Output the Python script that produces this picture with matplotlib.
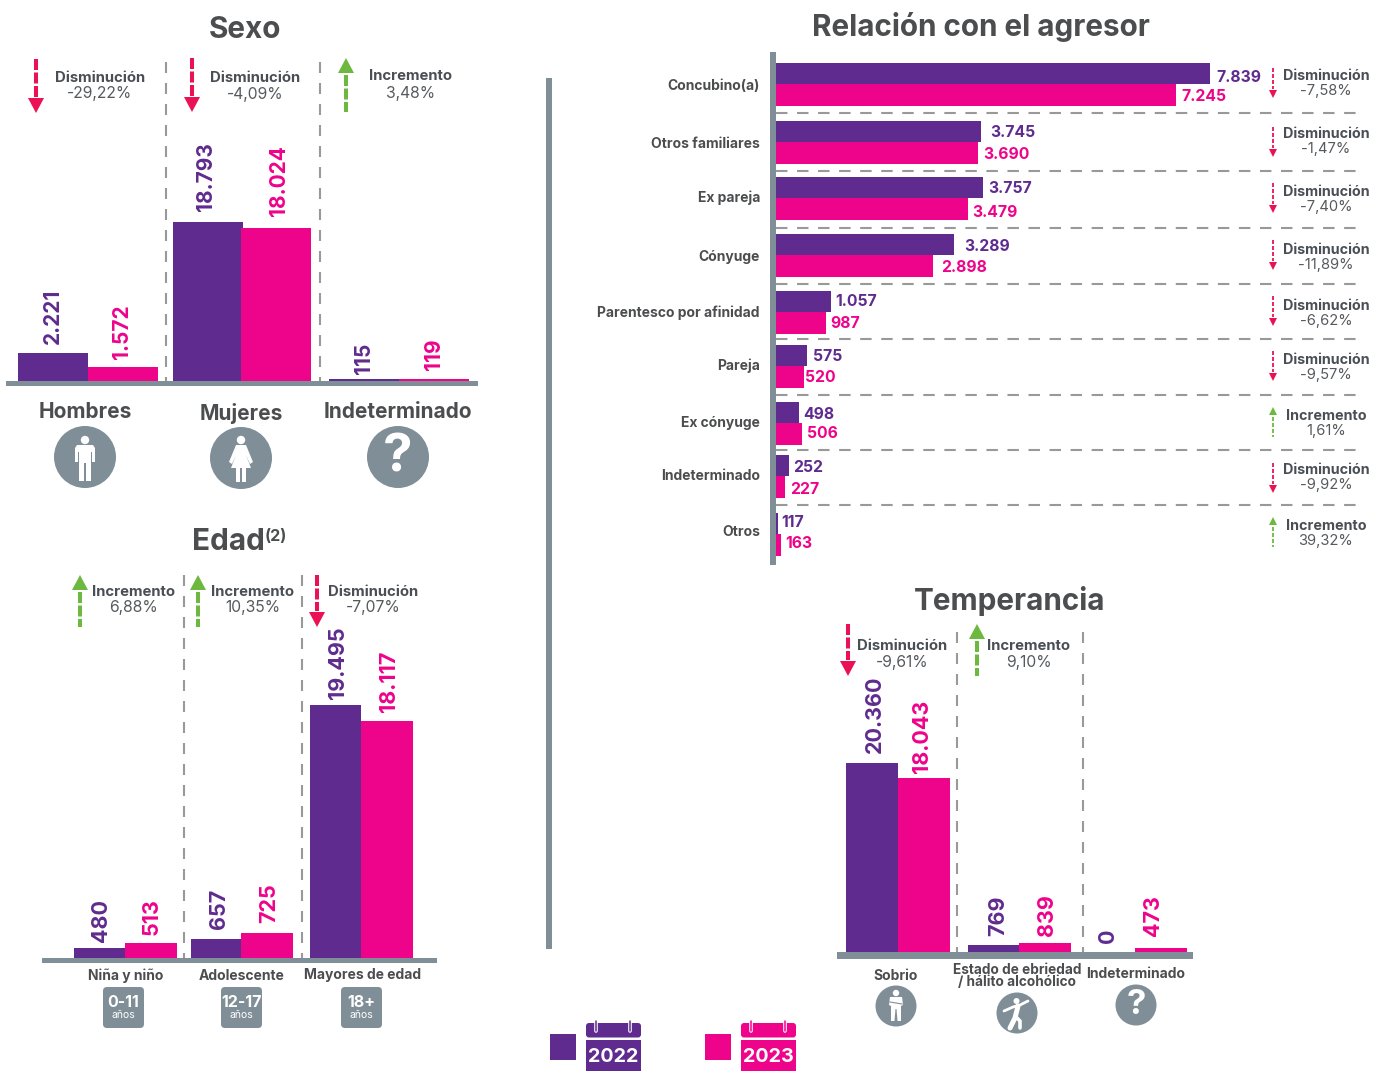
#!/usr/bin/env python3
"""Violencia familiar 2022-2023: sexo, edad, relacion con el agresor y temperancia."""

import matplotlib
matplotlib.use("Agg")
import matplotlib.pyplot as plt
from matplotlib.patches import Circle, FancyBboxPatch, Polygon, Rectangle

plt.rcParams["font.family"] = ["Inter", "DejaVu Sans"]

PURPLE = "#5F2B8E"
PINK = "#EE038B"
SLATE = "#7F8E97"
DARK = "#4C4D4F"
GREY_TXT = "#565A5E"
RED = "#EA1254"
GREEN = "#6DB83F"
DASH = "#999999"
W, H = 1388, 1071

# --- data -----------------------------------------------------------------
sexo_etiq_2022 = ["2.221", "18.793", "115"]
sexo_etiq_2023 = ["1.572", "18.024", "119"]
# the small bars in the source are not to scale with their printed values,
# so the drawn lengths are read off the picture separately
sexo_barra_2022 = [3310, 18793, 240]
sexo_barra_2023 = [1655, 18085, 240]
sexo_cat = ["Hombres", "Mujeres", "Indeterminado"]
sexo_cambio = [("Disminución", "-29,22%"), ("Disminución", "-4,09%"), ("Incremento", "3,48%")]

edad_etiq_2022 = ["480", "657", "19.495"]
edad_etiq_2023 = ["513", "725", "18.117"]
edad_barra_2022 = [770, 1465, 19495]
edad_barra_2023 = [1155, 1925, 18260]
edad_cat = ["Niña y niño", "Adolescente", "Mayores de edad"]
edad_rango = ["0-11", "12-17", "18+"]
edad_cambio = [("Incremento", "6,88%"), ("Incremento", "10,35%"), ("Disminución", "-7,07%")]

temp_etiq_2022 = ["20.360", "769", "0"]
temp_etiq_2023 = ["18.043", "839", "473"]
temp_barra_2022 = [20360, 754, 0]
temp_barra_2023 = [18744, 970, 431]
temp_cambio = [("Disminución", "-9,61%"), ("Incremento", "9,10%")]

rel_cat = ["Concubino(a)", "Otros familiares", "Ex pareja", "Cónyuge",
           "Parentesco por afinidad", "Pareja", "Ex cónyuge", "Indeterminado", "Otros"]
rel_barra_2022 = [7839, 3712, 3748, 3226, 1009, 577, 432, 252, 54]
rel_barra_2023 = [7226, 3658, 3478, 2847, 919, 523, 487, 180, 108]
rel_etiq_2022 = ["7.839", "3.745", "3.757", "3.289", "1.057", "575", "498", "252", "117"]
rel_etiq_2023 = ["7.245", "3.690", "3.479", "2.898", "987", "520", "506", "227", "163"]
rel_cambio = [("Disminución", "-7,58%"), ("Disminución", "-1,47%"), ("Disminución", "-7,40%"),
              ("Disminución", "-11,89%"), ("Disminución", "-6,62%"), ("Disminución", "-9,57%"),
              ("Incremento", "1,61%"), ("Disminución", "-9,92%"), ("Incremento", "39,32%")]

# --- layout, in reference pixels ------------------------------------------
fig = plt.figure(figsize=(W / 100, H / 100), dpi=100, facecolor="white")
ov = fig.add_axes([0, 0, 1, 1])
ov.set_xlim(0, W)
ov.set_ylim(H, 0)
ov.axis("off")


def txt(x, y, s, size, color=DARK, weight="bold", ha="center", va="center", **kw):
    return ov.text(x, y + 1.5, s, fontsize=size, color=color, fontweight=weight, ha=ha, va=va, **kw)


def vdash(x, y0, y1, color=DASH, lw=1.5, on=11, off=10):
    # dash lengths are given in pixels; matplotlib scales them by the line width
    ov.plot([x, x], [y0, y1], color=color, lw=lw, dashes=(on * 0.72 / lw, off * 0.72 / lw),
            dash_capstyle="butt", solid_capstyle="butt")


def arrow(x, top, bottom, up, w=16, tri=15, lw=2.9, on=11, off=2.5):
    color = GREEN if up else RED
    if up:
        ov.add_patch(Polygon([(x - w / 2, top + tri), (x + w / 2, top + tri), (x, top)], color=color, lw=0))
        vdash(x, top + tri + 2, bottom, color, lw, on, off)
    else:
        ov.add_patch(Polygon([(x - w / 2, bottom - tri), (x + w / 2, bottom - tri), (x, bottom)], color=color, lw=0))
        vdash(x, top, bottom - tri - 1, color, lw, on, off)


def change_text(x, y0, y1, pair, s0=10.7, s1=11.3):
    txt(x, y0, pair[0], s0, color="#4A4F55")
    txt(x, y1, pair[1], s1, color=GREY_TXT, weight="normal")


def bars_panel(baseline, units_per_px, lefts_a, lefts_b, width_a, width_b, vals_a, vals_b,
               lab_a, lab_b, xs_a, xs_b, gaps_a, gaps_b, size):
    ax = fig.add_axes([0, 1 - baseline / H, 1, baseline / H])
    ax.patch.set_alpha(0)
    ax.set_xlim(0, W)
    ax.set_ylim(0, baseline * units_per_px)
    ax.axis("off")
    ax.bar(lefts_a, vals_a, width_a, align="edge", color=PURPLE, lw=0)
    ax.bar(lefts_b, vals_b, width_b, align="edge", color=PINK, lw=0)
    for x, v, s, g in zip(xs_a, vals_a, lab_a, gaps_a):
        ax.annotate(s, (x, v), xytext=(1.5, g), textcoords="offset pixels", rotation=90, ha="center",
                    va="bottom", fontsize=size, fontweight="bold", color=PURPLE)
    for x, v, s, g in zip(xs_b, vals_b, lab_b, gaps_b):
        ax.annotate(s, (x, v), xytext=(1.5, g), textcoords="offset pixels", rotation=90, ha="center",
                    va="bottom", fontsize=size, fontweight="bold", color=PINK)


def icon_disc(x, y, r):
    ov.add_patch(Circle((x, y), r, color=SLATE, lw=0))


def man(x, y, k=1.0):
    pts = [(-8, -14), (8, -14), (10, -11), (10, 3), (7, 3), (7, -7), (6, -7), (6, 22), (1, 22),
           (1, 4), (-1, 4), (-1, 22), (-6, 22), (-6, -7), (-7, -7), (-7, 3), (-10, 3), (-10, -11)]
    ov.add_patch(Polygon([(x + a * k, y + b * k) for a, b in pts], color="white", lw=0, joinstyle="round"))
    ov.add_patch(Circle((x, y - 19 * k), 4.2 * k, color="white", lw=0))


def woman(x, y, k=1.0):
    pts = [(-5, -14), (5, -14), (12, 3), (9, 5), (5, -4), (10, 9), (5, 9), (5, 23), (1, 23), (1, 9),
           (-1, 9), (-1, 23), (-5, 23), (-5, 9), (-10, 9), (-5, -4), (-9, 5), (-12, 3)]
    ov.add_patch(Polygon([(x + a * k, y + b * k) for a, b in pts], color="white", lw=0))
    ov.add_patch(Circle((x, y - 19 * k), 4.2 * k, color="white", lw=0))


def sober(x, y):
    pts = [(-6, -9), (6, -9), (7, -1), (5, 0), (5, 15), (1.5, 15), (0.5, 3), (-0.5, 3), (-1.5, 15),
           (-5, 15), (-5, 0), (-7, -1)]
    ov.add_patch(Polygon([(x + a, y + b) for a, b in pts], color="white", lw=0))
    ov.add_patch(Circle((x, y - 13), 3.2, color="white", lw=0))
    ov.plot([x - 6, x + 6], [y - 4, y - 2], color=SLATE, lw=0.8)


def drunk(x, y):
    ov.plot([x - 13, x - 4, x + 3, x + 11], [y - 2, y - 6, y - 8, y - 12], color="white", lw=2,
            solid_capstyle="round")
    ov.plot([x + 1, x - 2, x - 7], [y - 7, y + 5, y + 15], color="white", lw=3.6, solid_capstyle="round")
    ov.plot([x - 1, x + 3, x + 3], [y + 4, y + 8, y + 15], color="white", lw=2.6, solid_capstyle="round")
    ov.add_patch(Circle((x - 0.5, y - 12), 3, color="white", lw=0))


def calendar(x0, color, year):
    ov.add_patch(Rectangle((x0, 1040), 55, 31, color=color, lw=0))
    ov.add_patch(FancyBboxPatch((x0, 1023), 55, 14.5, boxstyle="round,pad=0,rounding_size=3", color=color, lw=0))
    for dx in (10, 44):
        ov.plot([x0 + dx, x0 + dx], [1021, 1031], color="white", lw=2.6, solid_capstyle="round")
        ov.plot([x0 + dx, x0 + dx], [1021, 1031], color=color, lw=1.1, solid_capstyle="round")
    txt(x0 + 27.5, 1055.5, year, 14.2, color="white")


# titles
txt(245, 28, "Sexo", 21.4)
txt(981, 26, "Relación con el agresor", 21.4)
txt(228, 541, "Edad", 21.4)
txt(276, 535, "(2)", 11.5)
txt(1010, 599, "Temperancia", 21.4)

# Sexo
for x in (166, 320):
    vdash(x, 62, 381)
arrow(36, 59, 113, False)
arrow(192, 58, 112, False)
arrow(346, 58, 112, True)
for (cx, y0, y1), p in zip([(100, 76, 92), (255, 76, 93), (411, 75, 92)], sexo_cambio):
    change_text(cx, y0, y1, p)
ov.add_patch(Rectangle((6, 381), 472, 5, color=SLATE, lw=0))
for x, y, s in zip((85, 241, 398), (410, 412, 410), sexo_cat):
    txt(x, y, s, 15)
icon_disc(85, 457, 31)
icon_disc(241, 458, 31)
icon_disc(398, 457, 31)
man(85, 459)
woman(241, 459)
txt(398, 457, "?", 38, color="white")
bars_panel(381, 18793 / 159, [18, 173, 329], [88, 241, 399], 70, 70, sexo_barra_2022, sexo_barra_2023,
           sexo_etiq_2022, sexo_etiq_2023, [51, 205, 363], [121, 278, 433], [9, 11, 5], [8, 12, 9], 15)

# Edad
for x in (184, 302):
    vdash(x, 575, 958)
arrow(80, 575, 627, True)
arrow(198, 575, 627, True)
arrow(317, 575, 627, False)
for (cx, y0, y1), p in zip([(134, 590, 606), (253, 590, 606), (373, 590, 606)], edad_cambio):
    change_text(cx, y0, y1, p)
ov.add_patch(Rectangle((42, 958), 395, 5, color=SLATE, lw=0))
for x, s, r, bx in zip((126, 242, 363), edad_cat, edad_rango, (103, 221, 341)):
    txt(x, 974, s, 10)
    ov.add_patch(FancyBboxPatch((bx, 987), 41, 41, boxstyle="round,pad=0,rounding_size=4", color=SLATE, lw=0))
    txt(bx + 20.5, 1001, r, 11.5, color="white")
    txt(bx + 20.5, 1014, "años", 7.5, color="white", weight="normal")
bars_panel(958, 19495 / 253, [74, 191, 310], [125, 241, 361], [51, 50, 51], 52, edad_barra_2022, edad_barra_2023,
           edad_etiq_2022, edad_etiq_2023, [100, 218, 337], [150, 268, 388], [6, 10, 6], [8, 10, 9], 15.5)

# Temperancia
for x in (957, 1083):
    vdash(x, 632, 952)
arrow(848, 624, 676, False)
arrow(977, 624, 676, True)
for (cx, y0, y1), p in zip([(902, 645, 661), (1029, 645, 661)], temp_cambio):
    change_text(cx, y0, y1, p)
ov.add_patch(Rectangle((837, 952), 356, 7, color=SLATE, lw=0))
txt(896, 974, "Sobrio", 10)
txt(1017, 968, "Estado de ebriedad", 9.8)
txt(1017, 981, "/ hálito alcohólico", 9.8)
txt(1136, 973, "Indeterminado", 10)
icon_disc(896, 1006, 20.5)
icon_disc(1017, 1013, 20.5)
icon_disc(1136, 1005, 20.5)
sober(896, 1006)
drunk(1017, 1013)
txt(1136, 1004, "?", 25, color="white")
bars_panel(952, 20360 / 189, [846, 968, 1083], [898, 1019, 1135], 52, 52, temp_barra_2022, temp_barra_2023,
           temp_etiq_2022, temp_etiq_2023, [873, 997, 1107], [921, 1046, 1152], [10, 9, 9], [5, 7, 12], 15.5)

# Relacion con el agresor
ov.add_patch(Rectangle((546, 78), 6, 871, color=SLATE, lw=0))
fila_y = [84, 142, 198, 255, 312, 366, 423, 476, 534]
sep_y = [113, 171, 228, 284, 339, 395, 450, 505]
cat_y = [84, 142, 196, 255, 311, 364, 422, 475, 531]
flecha_y = [68, 127, 183, 240, 296, 351, 407, 463, 517]
cambio_y = [75, 133, 191, 248, 304, 358, 414, 469, 525]
etq_y_a = [76, 131, 187, 245, 300, 355, 413, 466, 521]
etq_y_b = [95, 153, 211, 266, 322, 376, 432, 488, 542]
gap_a = [6, 9, 5, 10, 4, 6, 4, 4, 3]
gap_b = [5, 5, 4, 8, 4, 1, 5, 5, 4]
for y in sep_y:
    ov.plot([776, 1365], [y, y], color=DASH, lw=1.5, dashes=(5.5, 4.6), dash_capstyle="butt")
for y, s in zip(cat_y, rel_cat):
    txt(760, y, s, 10.0, ha="right")
for fy, cy, p in zip(flecha_y, cambio_y, rel_cambio):
    arrow(1273, fy, fy + 30, p[0] == "Incremento", w=8, tri=8, lw=1.3, on=4, off=2)
    change_text(1326, cy, cy + 15, p, 10.3, 10.6)

rel = fig.add_axes([775 / W, 0, 1 - 775 / W, 1])
rel.patch.set_alpha(0)
rel.set_xlim(0, (W - 775) * 7839 / 435)
rel.set_ylim(H, 0)
rel.axis("off")
rel.barh([y - 10.5 for y in fila_y], rel_barra_2022, 21, color=PURPLE, lw=0)
rel.barh([y + 11 for y in fila_y], rel_barra_2023, 22, color=PINK, lw=0)
for v, y, s, g in zip(rel_barra_2022, etq_y_a, rel_etiq_2022, gap_a):
    rel.annotate(s, (v, y), xytext=(g, -1.5), textcoords="offset pixels", va="center", fontsize=11.3,
                 fontweight="bold", color=PURPLE)
for v, y, s, g in zip(rel_barra_2023, etq_y_b, rel_etiq_2023, gap_b):
    rel.annotate(s, (v, y), xytext=(g, -1.5), textcoords="offset pixels", va="center", fontsize=11.3,
                 fontweight="bold", color=PINK)
ov2 = fig.add_axes([0, 0, 1, 1])
ov2.set_xlim(0, W)
ov2.set_ylim(H, 0)
ov2.axis("off")
ov2.patch.set_alpha(0)
ov2.add_patch(Rectangle((770, 52), 6, 513, color=SLATE, lw=0))

# Leyenda
ov.add_patch(Rectangle((550, 1034), 26, 26, color=PURPLE, lw=0))
ov.add_patch(Rectangle((705, 1034), 26, 26, color=PINK, lw=0))
calendar(586, PURPLE, "2022")
calendar(741, PINK, "2023")

fig.savefig("out.png", dpi=100)
